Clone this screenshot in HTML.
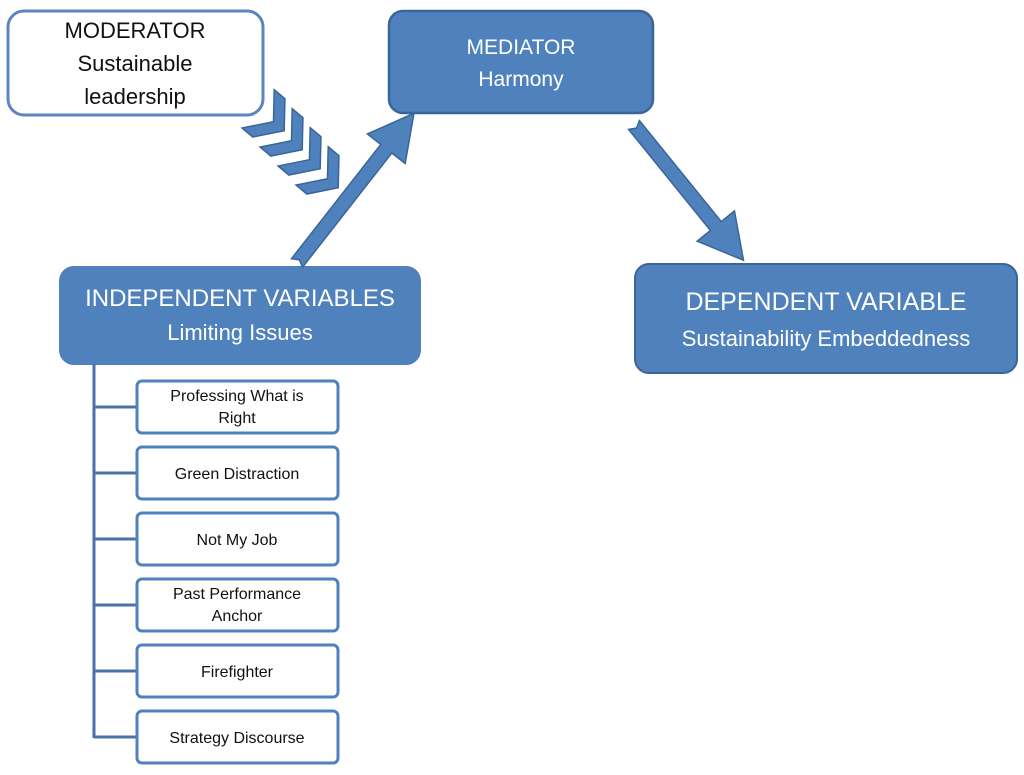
<!DOCTYPE html>
<html><head><meta charset="utf-8"><style>
html,body{margin:0;padding:0;background:#fff;}
svg{display:block;font-family:"Liberation Sans",Calibri,sans-serif;}
</style></head><body>
<svg width="1024" height="775" viewBox="0 0 1024 775" xmlns="http://www.w3.org/2000/svg">
<defs>
<polygon id="chev" points="-22,-25 -8,-25 12,0 -8,25 -22,25 -2,0" fill="#4f81bd" stroke="#3a6597" stroke-width="1.5"/>
</defs>
<rect x="8" y="11" width="255" height="104" rx="16" fill="#fff" stroke="#5b86c0" stroke-width="3"/>
<text x="135" y="38" font-size="22" text-anchor="middle" fill="#111">MODERATOR</text>
<text x="135" y="71" font-size="22" text-anchor="middle" fill="#111">Sustainable</text>
<text x="135" y="104" font-size="22" text-anchor="middle" fill="#111">leadership</text>
<rect x="389" y="11" width="264" height="102" rx="14" fill="#4f81bd" stroke="#3a6597" stroke-width="2.5"/>
<text x="521" y="54" font-size="21" text-anchor="middle" fill="#fff">MEDIATOR</text>
<text x="521" y="86" font-size="21" text-anchor="middle" fill="#fff">Harmony</text>
<rect x="60" y="267" width="360" height="97" rx="14" fill="#4f81bd" stroke="#4f81bd" stroke-width="2"/>
<text x="240" y="306" font-size="24" text-anchor="middle" fill="#fff">INDEPENDENT VARIABLES</text>
<text x="240" y="340" font-size="22" text-anchor="middle" fill="#fff">Limiting Issues</text>
<rect x="635" y="264" width="382" height="109" rx="14" fill="#4f81bd" stroke="#3a6597" stroke-width="2"/>
<text x="826" y="310" font-size="25" text-anchor="middle" fill="#fff">DEPENDENT VARIABLE</text>
<text x="826" y="346" font-size="22" text-anchor="middle" fill="#fff">Sustainability Embeddedness</text>
<g transform="translate(275,123) rotate(40)"><use href="#chev"/></g>
<g transform="translate(293,142) rotate(40)"><use href="#chev"/></g>
<g transform="translate(311,161) rotate(40)"><use href="#chev"/></g>
<g transform="translate(329,180) rotate(40)"><use href="#chev"/></g>
<g transform="translate(297,263) rotate(-52)">
<polygon points="0,-7 145,-7 145,-24 190,0 145,24 145,7 0,7 4,0" fill="#4f81bd" stroke="#3a6597" stroke-width="1.5"/>
</g>
<g transform="translate(634,125) rotate(51)">
<polygon points="0,-7 130,-7 130,-24 174,0 130,24 130,7 0,7 4,0" fill="#4f81bd" stroke="#3a6597" stroke-width="1.5"/>
</g>
<g stroke="#4a72a8" stroke-width="3" fill="none">
<line x1="94" y1="364" x2="94" y2="738"/>
<line x1="94" y1="407" x2="137" y2="407"/>
<line x1="94" y1="473" x2="137" y2="473"/>
<line x1="94" y1="539" x2="137" y2="539"/>
<line x1="94" y1="605" x2="137" y2="605"/>
<line x1="94" y1="671" x2="137" y2="671"/>
<line x1="94" y1="737" x2="137" y2="737"/>
</g>
<g fill="#fff" stroke="#4f81bd" stroke-width="3">
<rect x="137" y="381" width="201" height="52" rx="5"/>
<rect x="137" y="447" width="201" height="52" rx="5"/>
<rect x="137" y="513" width="201" height="52" rx="5"/>
<rect x="137" y="579" width="201" height="52" rx="5"/>
<rect x="137" y="645" width="201" height="52" rx="5"/>
<rect x="137" y="711" width="201" height="52" rx="5"/>
</g>
<g font-size="16" text-anchor="middle" fill="#111">
<text x="237" y="401">Professing What is</text>
<text x="237" y="423">Right</text>
<text x="237" y="479">Green Distraction</text>
<text x="237" y="545">Not My Job</text>
<text x="237" y="599">Past Performance</text>
<text x="237" y="621">Anchor</text>
<text x="237" y="677">Firefighter</text>
<text x="237" y="743">Strategy Discourse</text>
</g>
</svg>
</body></html>
